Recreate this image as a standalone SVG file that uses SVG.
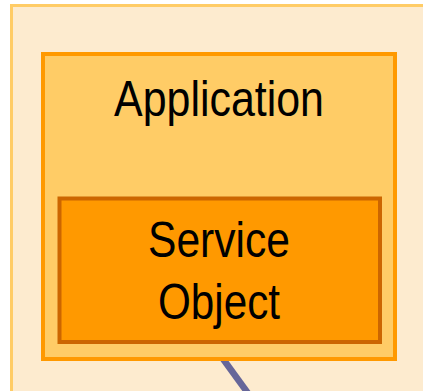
<svg xmlns="http://www.w3.org/2000/svg" width="423" height="391" viewBox="0 0 423 391">
  <style>
    .label { font-family: "Liberation Sans Narrow", "Arial Narrow", "Liberation Sans", sans-serif; font-size: 50px; fill: #000; text-anchor: middle; }
  </style>
  <rect x="0" y="0" width="423" height="391" fill="#ffffff"/>
  <g id="container">
    <rect x="11.5" y="5.5" width="430" height="400" fill="#FDEBCF" stroke="#FFCC66" stroke-width="3"/>
  </g>
  <g id="connectors">
    <line x1="218" y1="352" x2="250" y2="396" stroke="#666699" stroke-width="6.5"/>
  </g>
  <g id="application">
    <rect x="43" y="54" width="352" height="305" fill="#FFCC66" stroke="#FF9900" stroke-width="4"/>
    <text class="label" x="219" y="116" textLength="210" lengthAdjust="spacingAndGlyphs">Application</text>
  </g>
  <g id="service-object">
    <rect x="59.5" y="198.5" width="320.5" height="143.5" fill="#FF9900" stroke="#CC6600" stroke-width="4"/>
    <text class="label" x="219" y="257" textLength="142" lengthAdjust="spacingAndGlyphs">Service</text>
    <text class="label" x="219" y="319" textLength="122" lengthAdjust="spacingAndGlyphs">Object</text>
  </g>
</svg>
